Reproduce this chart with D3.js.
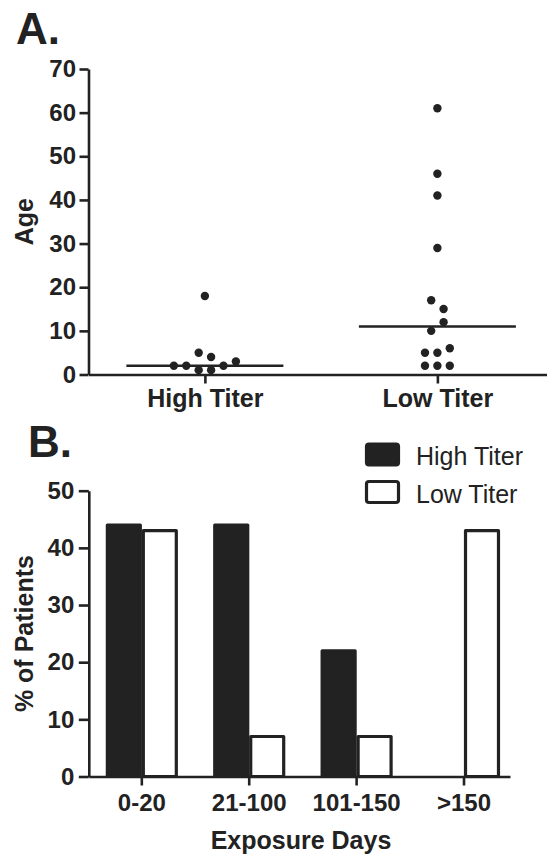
<!DOCTYPE html>
<html>
<head>
<meta charset="utf-8">
<script src="https://cdn.jsdelivr.net/npm/d3@7"></script>
<style>
  body { margin: 0; background: #fff; }
  svg { display: block; font-family: "Liberation Sans", Arial, Helvetica, sans-serif; }
  .axis path, .axis line { stroke: #222; stroke-width: 2.6px; }
  .axis text { font-size: 24px; font-weight: bold; fill: #222; }
  .lbl { font-size: 25px; font-weight: bold; fill: #222; }
  .panel { font-size: 44px; font-weight: bold; fill: #222; }
  .legend text { font-size: 25px; fill: #222; }
</style>
</head>
<body>
<div id="chart"></div>
<script>
// Panel A data: age of each patient
var groups = ["High Titer", "Low Titer"];
var highAges = [2, 2, 1, 1, 2, 3, 5, 4, 18];
var lowAges = [2, 2, 2, 5, 5, 6, 10, 12, 17, 15, 29, 41, 46, 61];
var ageTicks = [0, 10, 20, 30, 40, 50, 60, 70];

// Panel B data: % of patients per exposure days bin
var exposureBins = ["0-20", "21-100", "101-150", ">150"];
var series = ["High Titer", "Low Titer"];
var highPct = [44, 44, 22, 0];
var lowPct = [43, 7, 7, 43];
var pctTicks = [0, 10, 20, 30, 40, 50];

var svgWidth = 547;
var svgHeight = 859;
var ink = "#222";

var svg = d3.select("#chart")
  .append("svg")
  .attr("width", svgWidth)
  .attr("height", svgHeight);

// ---------- Panel A ----------
var aLeft = 88.5, aRight = 547, aTop = 69, aBottom = 374.5;

var xA = d3.scalePoint()
  .domain(groups)
  .range([aLeft, aRight])
  .padding(0.486)
  .align(0.515);

var yA = d3.scaleLinear()
  .domain([0, 70])
  .range([aBottom, aTop]);

svg.append("text")
  .attr("class", "panel")
  .attr("x", 16)
  .attr("y", 44)
  .text("A.");

svg.append("g")
  .attr("class", "axis")
  .attr("transform", `translate(${aLeft},0)`)
  .call(d3.axisLeft(yA).tickValues(ageTicks).tickSize(9).tickSizeOuter(0).tickPadding(3.5));

svg.append("g")
  .attr("class", "axis")
  .attr("transform", `translate(0,${aBottom})`)
  .call(d3.axisBottom(xA).tickSize(9).tickSizeOuter(0).tickPadding(6))
  .selectAll("text")
  .style("font-size", "25px");

svg.append("text")
  .attr("class", "lbl")
  .attr("transform", `translate(33,${(aTop + aBottom) / 2}) rotate(-90)`)
  .attr("text-anchor", "middle")
  .text("Age");

// simple column scatter: group close values into rows, spread each row sideways
function swarm(values, binWidth, spacing) {
  var idx = values.map((v, i) => i).sort((a, b) => values[a] - values[b] || a - b);
  var out = new Array(values.length);
  var i = 0;
  while (i < idx.length) {
    var start = values[idx[i]];
    var bin = [];
    while (i < idx.length && values[idx[i]] <= start + binWidth) {
      bin.push(idx[i]);
      i++;
    }
    bin.sort((a, b) => a - b);
    bin.forEach(function(k, j) {
      out[k] = { value: values[k], dx: (j - (bin.length - 1) / 2) * spacing };
    });
  }
  return out;
}

var ageSets = [highAges, lowAges];
var medianHalf = 78.5;

ageSets.forEach(function(ages, gi) {
  var cx = xA(groups[gi]);
  var pts = swarm(ages, 2.5, 12.4);

  svg.append("g")
    .selectAll("circle")
    .data(pts)
    .enter()
    .append("circle")
    .attr("cx", d => cx + d.dx)
    .attr("cy", d => yA(d.value))
    .attr("r", 4.2)
    .attr("fill", ink);

  var med = d3.median(ages);
  svg.append("line")
    .attr("x1", cx - medianHalf)
    .attr("x2", cx + medianHalf)
    .attr("y1", yA(med))
    .attr("y2", yA(med))
    .attr("stroke", ink)
    .attr("stroke-width", 2.6);
});

// ---------- Panel B ----------
var bLeft = 88.8, bRight = 510, bTop = 490.7, bBottom = 776.5;

var xB = d3.scaleBand()
  .domain(exposureBins)
  .range([bLeft, bRight])
  .paddingInner(0.33)
  .paddingOuter(0.126)
  .align(0.63);

var xSub = d3.scaleBand()
  .domain(series)
  .range([0, xB.bandwidth()]);

var yB = d3.scaleLinear()
  .domain([0, 50])
  .range([bBottom, bTop]);

svg.append("text")
  .attr("class", "panel")
  .attr("x", 28)
  .attr("y", 457)
  .text("B.");

var barData = [];
exposureBins.forEach(function(b, i) {
  barData.push({ bin: b, s: series[0], v: highPct[i] });
  barData.push({ bin: b, s: series[1], v: lowPct[i] });
});

svg.append("g")
  .selectAll("rect")
  .data(barData.filter(d => d.v > 0))
  .enter()
  .append("rect")
  .attr("x", d => xB(d.bin) + xSub(d.s) + 1.5)
  .attr("y", d => yB(d.v))
  .attr("width", xSub.bandwidth() - 3)
  .attr("height", d => yB(0) - yB(d.v))
  .attr("fill", d => d.s === series[0] ? ink : "#fff")
  .attr("stroke", ink)
  .attr("stroke-width", 3.2)
  .attr("stroke-linejoin", "round");

svg.append("g")
  .attr("class", "axis")
  .attr("transform", `translate(${bLeft},0)`)
  .call(d3.axisLeft(yB).tickValues(pctTicks).tickSize(10).tickSizeOuter(0).tickPadding(4.5));

svg.append("g")
  .attr("class", "axis")
  .attr("transform", `translate(0,${bBottom})`)
  .call(d3.axisBottom(xB).tickSize(9).tickSizeOuter(0).tickPadding(8));

svg.append("text")
  .attr("class", "lbl")
  .attr("transform", `translate(33,${(bTop + bBottom) / 2}) rotate(-90)`)
  .attr("text-anchor", "middle")
  .text("% of Patients");

svg.append("text")
  .attr("class", "lbl")
  .attr("x", 301)
  .attr("y", 849)
  .attr("text-anchor", "middle")
  .text("Exposure Days");

// legend
var legend = svg.append("g").attr("class", "legend");
series.forEach(function(s, i) {
  var ly = 444 + i * 37.5;
  legend.append("rect")
    .attr("x", 366.5)
    .attr("y", ly)
    .attr("width", 32)
    .attr("height", 21)
    .attr("rx", 2.5)
    .attr("fill", i === 0 ? ink : "#fff")
    .attr("stroke", ink)
    .attr("stroke-width", 3.2);
  legend.append("text")
    .attr("x", 416)
    .attr("y", ly + 21)
    .text(s);
});
</script>
</body>
</html>
